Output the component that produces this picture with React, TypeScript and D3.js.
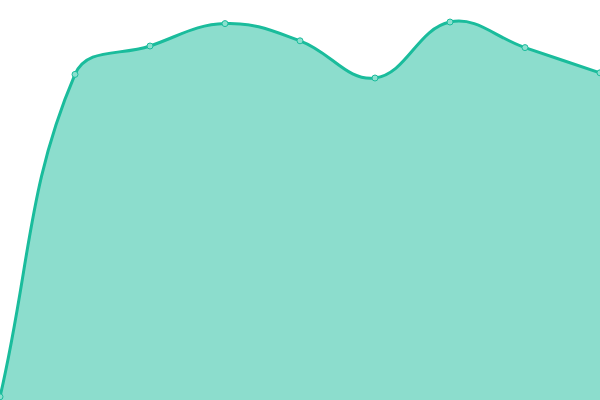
import { useMemo } from 'react';
import * as d3 from 'd3';

// Data (value scale 0–100)
const positions = [0, 1, 2, 3, 4, 5, 6, 7, 8];
const values = [0.8, 81.4, 88.5, 94.1, 89.8, 80.5, 94.5, 88.1, 81.8];

const WIDTH = 600;
const HEIGHT = 400;
const LINE = '#1abc9c';
const TENSION = 0.4;

// Distance-weighted spline (tangent along next-prev, split by segment lengths)
function curveTensionSpline(context: d3.Path | CanvasRenderingContext2D) {
  let xs: number[] = [];
  let ys: number[] = [];
  let lineState = NaN;
  return {
    areaStart() { lineState = 0; },
    areaEnd() { lineState = NaN; },
    lineStart() { xs = []; ys = []; },
    point(x: number, y: number) { xs.push(+x); ys.push(+y); },
    lineEnd() {
      const n = xs.length;
      if (n) {
        if (lineState) context.lineTo(xs[0], ys[0]);
        else context.moveTo(xs[0], ys[0]);
        const cin: [number, number][] = [];
        const cout: [number, number][] = [];
        for (let i = 0; i < n; i++) {
          const pi = Math.max(0, i - 1);
          const ni = Math.min(n - 1, i + 1);
          const d01 = Math.hypot(xs[i] - xs[pi], ys[i] - ys[pi]);
          const d12 = Math.hypot(xs[ni] - xs[i], ys[ni] - ys[i]);
          const s01 = d01 + d12 ? d01 / (d01 + d12) : 0;
          const s12 = d01 + d12 ? d12 / (d01 + d12) : 0;
          const vx = xs[ni] - xs[pi];
          const vy = ys[ni] - ys[pi];
          cin.push([xs[i] - TENSION * s01 * vx, ys[i] - TENSION * s01 * vy]);
          cout.push([xs[i] + TENSION * s12 * vx, ys[i] + TENSION * s12 * vy]);
        }
        for (let i = 1; i < n; i++) {
          context.bezierCurveTo(cout[i - 1][0], cout[i - 1][1], cin[i][0], cin[i][1], xs[i], ys[i]);
        }
      }
      if (lineState || (lineState !== 0 && n === 1)) context.closePath();
      lineState = 1 - lineState;
    },
  };
}

export default function App() {
  const { areaD, lineD, x, y } = useMemo(() => {
    const x = d3.scaleLinear().domain([0, positions.length - 1]).range([0, WIDTH]);
    const y = d3.scaleLinear().domain([0, 100]).range([HEIGHT, 0]);
    const curve = curveTensionSpline as unknown as d3.CurveFactory;
    const area = d3.area<number>()
      .x((_d, i) => x(positions[i]))
      .y0(HEIGHT)
      .y1((d) => y(d))
      .curve(curve);
    const line = d3.line<number>()
      .x((_d, i) => x(positions[i]))
      .y((d) => y(d))
      .curve(curve);
    return { areaD: area(values) ?? '', lineD: line(values) ?? '', x, y };
  }, []);

  return (
    <svg
      width={WIDTH}
      height={HEIGHT}
      style={{ position: 'fixed', left: 0, top: 0, display: 'block', overflow: 'visible' }}
    >
      <path d={areaD} fill={LINE} fillOpacity={0.5} />
      <path d={lineD} fill="none" stroke={LINE} strokeWidth={3} />
      {values.map((v, i) => (
        <circle
          key={i}
          cx={x(positions[i])}
          cy={y(v)}
          r={3}
          fill="#8ce0cf"
          stroke={LINE}
          strokeWidth={1}
        />
      ))}
    </svg>
  );
}
